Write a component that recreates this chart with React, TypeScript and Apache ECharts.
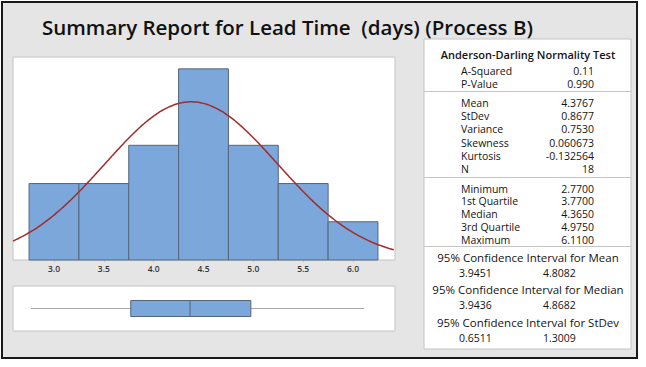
import React, { useEffect, useRef } from "react";
import * as echarts from "echarts";

const TITLE = "Summary Report for Lead Time  (days) (Process B)";
const BIN_STARTS = [2.75, 3.25, 3.75, 4.25, 4.75, 5.25, 5.75];
const BIN_WIDTH = 0.5;
const COUNTS = [2, 2, 3, 5, 3, 2, 1];
const TICK_VALUES = [3.0, 3.5, 4.0, 4.5, 5.0, 5.5, 6.0];
const MEAN = 4.3767;
const STDEV = 0.8677;
const N = 18;
const FIVE_NUM = [2.77, 3.77, 4.365, 4.975, 6.11];
const X_MIN = 2.589;
const X_MAX = 6.421;

const AD_TITLE = "Anderson-Darling Normality Test";
const AD_ROWS = [["A-Squared", "0.11"], ["P-Value", "0.990"]];
const MOMENT_ROWS = [
  ["Mean", "4.3767"],
  ["StDev", "0.8677"],
  ["Variance", "0.7530"],
  ["Skewness", "0.060673"],
  ["Kurtosis", "-0.132564"],
  ["N", "18"],
];
const QUANTILE_ROWS = [
  ["Minimum", "2.7700"],
  ["1st Quartile", "3.7700"],
  ["Median", "4.3650"],
  ["3rd Quartile", "4.9750"],
  ["Maximum", "6.1100"],
];
const CI_BLOCKS = [
  ["95% Confidence Interval for Mean", "3.9451", "4.8082"],
  ["95% Confidence Interval for Median", "3.9436", "4.8682"],
  ["95% Confidence Interval for StDev", "0.6511", "1.3009"],
];

const FONT = "'Open Sans', 'Noto Sans', sans-serif";
const BAR_FILL = "#7ba7da";
const BAR_STROKE = "#56667a";
const CURVE = "#a52a2a";

function fittedCurve(): number[][] {
  const pts: number[][] = [];
  const k = (N * BIN_WIDTH) / (STDEV * Math.sqrt(2 * Math.PI));
  for (let x = X_MIN; x <= X_MAX + 1e-9; x += 0.02) {
    const z = (x - MEAN) / STDEV;
    pts.push([x, k * Math.exp(-0.5 * z * z)]);
  }
  return pts;
}

export default function App() {
  const ref = useRef<HTMLDivElement>(null);
  useEffect(() => {
    if (!ref.current) return;
    const chart = echarts.init(ref.current, undefined, { renderer: "svg" });

    const txt = (x: number, y: number, text: string, align: string, weight: any = 500, size = 10.5) => ({
      type: "text",
      x,
      y,
      style: {
        text,
        fill: "#141414",
        font: `${weight} ${size}px ${FONT}`,
        textAlign: align,
        textVerticalAlign: "middle",
      },
    });

    const graphics: any[] = [];
    graphics.push({
      type: "text",
      x: 42,
      y: 27,
      style: {
        text: TITLE,
        fill: "#111111",
        font: `600 20.5px ${FONT}`,
        textAlign: "left",
        textVerticalAlign: "middle",
      },
    });
    // right panel
    const PX = 424, PY = 39, PW = 207, PH = 310;
    graphics.push({
      type: "rect",
      shape: { x: PX, y: PY, width: PW, height: PH },
      style: { fill: "#ffffff", stroke: "#c4c4c4", lineWidth: 1 },
    });
    [91, 177, 246].forEach((y) =>
      graphics.push({
        type: "line",
        shape: { x1: PX, y1: y + 0.5, x2: PX + PW, y2: y + 0.5 },
        style: { stroke: "#c4c4c4", lineWidth: 1 },
      })
    );
    const CX = PX + PW / 2 + 0.5;
    const LX = 461, VX = 594;
    graphics.push(txt(CX, 54, AD_TITLE, "center", 600, 11));
    AD_ROWS.forEach((r, i) => {
      graphics.push(txt(LX, 71 + i * 12.7, r[0], "left"));
      graphics.push(txt(VX, 71 + i * 12.7, r[1], "right"));
    });
    MOMENT_ROWS.forEach((r, i) => {
      graphics.push(txt(LX, 103 + i * 13.2, r[0], "left"));
      graphics.push(txt(VX, 103 + i * 13.2, r[1], "right"));
    });
    QUANTILE_ROWS.forEach((r, i) => {
      graphics.push(txt(LX, 188.5 + i * 12.8, r[0], "left"));
      graphics.push(txt(VX, 188.5 + i * 12.8, r[1], "right"));
    });
    CI_BLOCKS.forEach((b, i) => {
      const y = 257 + i * 32.5;
      graphics.push(txt(CX, y, b[0], "center", 500, 11.5));
      graphics.push(txt(459, y + 15.5, b[1], "left"));
      graphics.push(txt(543, y + 15.5, b[2], "left"));
    });

    chart.setOption({
      animation: false,
      backgroundColor: "transparent",
      graphic: graphics,
      grid: [
        {
          left: 13, top: 57, width: 382, height: 203,
          show: true, backgroundColor: "#ffffff", borderColor: "#c4c4c4", borderWidth: 1,
        },
        {
          left: 13, top: 286, width: 382, height: 45,
          show: true, backgroundColor: "#ffffff", borderColor: "#c4c4c4", borderWidth: 1,
        },
      ],
      xAxis: [
        {
          type: "value", gridIndex: 0, min: X_MIN, max: X_MAX,
          splitLine: { show: false },
          axisLine: { show: false },
          axisTick: { show: true, customValues: TICK_VALUES, length: 2, lineStyle: { color: "#c4c4c4" } },
          axisLabel: {
            customValues: TICK_VALUES,
            formatter: (v: number) => v.toFixed(1),
            fontSize: 8.5, fontWeight: 600, color: "#333", fontFamily: FONT, margin: 4,
          },
        },
        {
          type: "value", gridIndex: 1, min: X_MIN, max: X_MAX,
          show: false, splitLine: { show: false },
        },
      ],
      yAxis: [
        { type: "value", gridIndex: 0, min: 0, max: 5.31, show: false, splitLine: { show: false } },
        { type: "value", gridIndex: 1, min: 0, max: 1, show: false, splitLine: { show: false } },
      ],
      series: [
        {
          type: "custom",
          xAxisIndex: 0, yAxisIndex: 0,
          data: BIN_STARTS.map((s, i) => [s, s + BIN_WIDTH, COUNTS[i]]),
          encode: { x: [0, 1], y: 2 },
          renderItem: (params: any, api: any) => {
            const p0 = api.coord([api.value(0), api.value(2)]);
            const p1 = api.coord([api.value(1), 0]);
            return {
              type: "rect",
              shape: { x: p0[0], y: p0[1], width: p1[0] - p0[0], height: p1[1] - p0[1] },
              style: { fill: BAR_FILL, stroke: BAR_STROKE, lineWidth: 1 },
            };
          },
        },
        {
          type: "line",
          xAxisIndex: 0, yAxisIndex: 0,
          data: fittedCurve(),
          showSymbol: false,
          symbol: "none",
          smooth: true,
          lineStyle: { color: CURVE, width: 1.5 },
          z: 5,
        },
        {
          type: "custom",
          xAxisIndex: 1, yAxisIndex: 1,
          data: [FIVE_NUM],
          encode: { x: [0, 1, 2, 3, 4] },
          renderItem: (params: any, api: any) => {
            const yc = api.coord([FIVE_NUM[0], 0.5])[1];
            const xs = [0, 1, 2, 3, 4].map((k) => api.coord([api.value(k), 0.5])[0]);
            const h = 8;
            return {
              type: "group",
              children: [
                { type: "line", shape: { x1: xs[0], y1: yc, x2: xs[1], y2: yc }, style: { stroke: "#a8a8a8", lineWidth: 1.2 } },
                { type: "line", shape: { x1: xs[3], y1: yc, x2: xs[4], y2: yc }, style: { stroke: "#a8a8a8", lineWidth: 1.2 } },
                { type: "rect", shape: { x: xs[1], y: yc - h, width: xs[3] - xs[1], height: 2 * h }, style: { fill: BAR_FILL, stroke: BAR_STROKE, lineWidth: 1 } },
                { type: "line", shape: { x1: xs[2], y1: yc - h, x2: xs[2], y2: yc + h }, style: { stroke: BAR_STROKE, lineWidth: 1 } },
              ],
            };
          },
        },
      ],
    });
    return () => chart.dispose();
  }, []);

  return (
    <div style={{ position: "fixed", left: 0, top: 0, width: 646, height: 367, background: "#ffffff" }}>
      <div
        style={{
          position: "absolute", left: 1, top: 1, width: 637, height: 358,
          background: "#e5e5e5", border: "2px solid #1a1a1a", boxSizing: "border-box",
        }}
      />
      <div ref={ref} style={{ position: "absolute", left: 0, top: 0, width: 646, height: 367 }} />
    </div>
  );
}
